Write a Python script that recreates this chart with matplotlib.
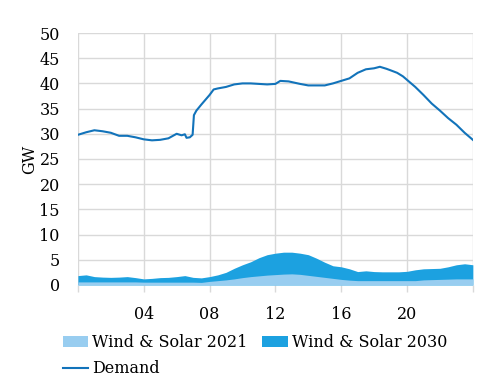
import numpy as np
import matplotlib.pyplot as plt

# --- DATA ---
# half-hourly wind & solar output (GW), hour 0 to 24
ws_hours = np.arange(0, 24.5, 0.5)
ws_2021 = [0.6, 0.6, 0.6, 0.6, 0.6, 0.6, 0.6, 0.6, 0.55, 0.55, 0.55, 0.55,
           0.55, 0.55, 0.55, 0.5, 0.7, 0.85, 1.0, 1.2, 1.45, 1.65, 1.8, 1.95,
           2.05, 2.15, 2.2, 2.1, 1.9, 1.7, 1.5, 1.3, 1.1, 0.95, 0.85, 0.85,
           0.85, 0.85, 0.85, 0.85, 0.85, 0.85, 1.0, 1.05, 1.1, 1.15, 1.2, 1.2, 1.2]
ws_2030 = [1.85, 2.0, 1.65, 1.55, 1.5, 1.55, 1.65, 1.45, 1.2, 1.3, 1.45, 1.5,
           1.65, 1.85, 1.5, 1.4, 1.65, 2.0, 2.5, 3.3, 4.0, 4.6, 5.4, 6.0,
           6.3, 6.5, 6.5, 6.3, 6.0, 5.3, 4.5, 3.8, 3.6, 3.2, 2.65, 2.8,
           2.65, 2.6, 2.6, 2.6, 2.7, 3.0, 3.2, 3.25, 3.3, 3.6, 4.0, 4.2, 4.0]

demand_hours = [0.0, 0.5, 1.0, 1.5, 2.0, 2.5, 3.0, 3.5, 4.0, 4.5, 5.0, 5.5, 6.0,
                6.3, 6.5, 6.6, 6.8, 6.97, 7.05, 7.2, 7.5, 8.0, 8.25, 8.5, 9.0,
                9.5, 10.0, 10.5, 11.0, 11.5, 12.0, 12.3, 12.8, 13.5, 14.0, 14.5,
                15.0, 15.5, 16.0, 16.5, 17.0, 17.5, 18.0, 18.35, 18.75, 19.0,
                19.4, 19.75, 20.0, 20.5, 21.0, 21.5, 22.0, 22.5, 23.0, 23.5, 24.0]
demand_gw = [29.8, 30.3, 30.7, 30.5, 30.2, 29.6, 29.6, 29.3, 28.9, 28.7, 28.8,
             29.1, 30.0, 29.7, 29.9, 29.2, 29.3, 29.8, 33.7, 34.6, 35.8, 37.7,
             38.8, 39.0, 39.3, 39.8, 40.0, 40.0, 39.9, 39.8, 39.9, 40.5, 40.4,
             39.9, 39.6, 39.6, 39.6, 40.0, 40.5, 41.0, 42.1, 42.8, 43.0, 43.3,
             42.9, 42.6, 42.1, 41.4, 40.7, 39.3, 37.7, 36.0, 34.6, 33.1, 31.8,
             30.2, 28.8]

xticks = [0, 4, 8, 12, 16, 20, 24]
xtick_labels = ["", "04", "08", "12", "16", "20", ""]

# --- PLOT ---
plt.rcParams['font.family'] = ['DejaVu Serif']
fig = plt.figure(figsize=(4.9, 3.84), dpi=100)
ax = fig.add_axes([0.159, 0.258, 0.806, 0.656])

ax.fill_between(ws_hours, 0, ws_2030, color='#1CA1E0', lw=0,
                label='Wind & Solar 2030')
ax.fill_between(ws_hours, 0, ws_2021, color='#98CDF0', lw=0,
                label='Wind & Solar 2021')
ax.plot(demand_hours, demand_gw, color='#1273BA', lw=1.5, label='Demand')

ax.set_xlim(0, 24)
ax.set_ylim(0, 50)
ax.set_yticks(range(0, 51, 5))
ax.set_xticks(xticks)
ax.set_xticklabels(xtick_labels)
ax.grid(True, color='#D9D9D9', lw=1)
ax.set_axisbelow(True)
for s in ax.spines.values():
    s.set_visible(False)
ax.tick_params(axis='y', length=0, labelsize=11.5, pad=13)
ax.tick_params(axis='x', length=5, color='#D9D9D9', width=1, labelsize=11.5, pad=10)
ax.set_ylabel("GW", fontsize=11.5, labelpad=1)

# legend: row 1 = 2021, 2030 ; row 2 = Demand (column-major fill)
h, l = ax.get_legend_handles_labels()
order = [1, 2, 0]
fig.legend([h[i] for i in order], [l[i] for i in order], ncol=2,
           loc='upper left', bbox_to_anchor=(0.115, 0.146), frameon=False,
           fontsize=11.5, handlelength=1.6, handletextpad=0.25,
           columnspacing=0.9, labelspacing=0.55, borderaxespad=0)

fig.savefig("out.png", dpi=100)
